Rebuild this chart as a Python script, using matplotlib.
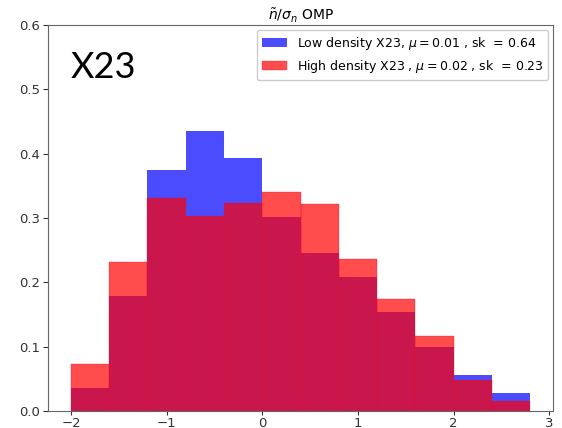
import matplotlib
matplotlib.use("Agg")
import matplotlib.pyplot as plt
import numpy as np

bin_edges = [-2.0, -1.6, -1.2, -0.8, -0.4, 0.0, 0.4, 0.8, 1.2, 1.6, 2.0, 2.4, 2.8]
low_density = [0.035, 0.178, 0.375, 0.435, 0.394, 0.302, 0.246, 0.208, 0.154, 0.100, 0.056, 0.028]
high_density = [0.073, 0.232, 0.331, 0.303, 0.323, 0.341, 0.321, 0.237, 0.174, 0.116, 0.048, 0.016]
low_label = r'Low density X23, $\mu = 0.01$ , sk  = 0.64'
high_label = r'High density X23 , $\mu = 0.02$ , sk  = 0.23'
title = r'$\tilde{n}/\sigma_n$ OMP'

edges = np.array(bin_edges)
centers = (edges[:-1] + edges[1:]) / 2

fig = plt.figure(figsize=(5.62, 4.28), dpi=100)
ax = fig.add_axes([0.0854, 0.0397, 0.8986, 0.9019])
ax.hist(centers, bins=edges, weights=low_density, color='blue', alpha=0.7, label=low_label)
ax.hist(centers, bins=edges, weights=high_density, color='red', alpha=0.7, label=high_label,
        edgecolor='#e0103a', linewidth=0.3)
ax.set_ylim(0, 0.6)
ax.set_yticks([0.0, 0.1, 0.2, 0.3, 0.4, 0.5, 0.6])
ax.set_xticks([-2, -1, 0, 1, 2, 3])
ax.tick_params(labelsize=9.5, colors='#333333', pad=2.5)
ax.tick_params(axis='x', pad=1.5, length=3)
for s in ax.spines.values():
    s.set_color('#666666')
ax.set_title(title, fontsize=10, pad=3)
ax.legend(loc='upper right', fontsize=9, handlelength=2, framealpha=1, borderaxespad=0.4)
fig.text(0.126, 0.818, 'X23', fontsize=26, family='Lato', color='black', va='baseline', ha='left')
fig.savefig('out.png', dpi=100)
